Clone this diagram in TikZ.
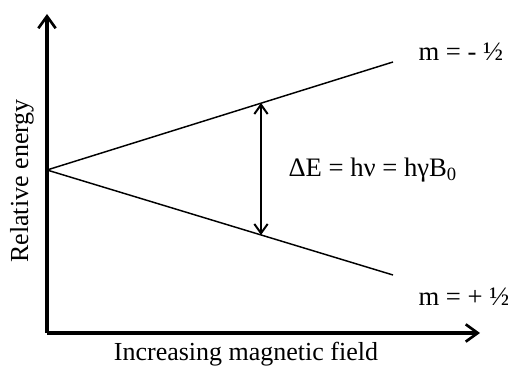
\documentclass[tikz,border=0pt]{standalone}
\usepackage{fontspec}
\setmainfont{Liberation Serif}
\usetikzlibrary{arrows.meta}

\tikzset{every picture/.style={line width=0.75pt}}
\tikzset{
  axis/.style={line width=2.4pt,-{Straight Barb[length=9pt,width=13pt,line width=2pt]}},
  level/.style={line width=1.1pt},
  gap/.style={line width=1.5pt,{Straight Barb[length=7pt,width=10pt]}-{Straight Barb[length=7pt,width=10pt]}},
  lbl/.style={inner sep=0.75pt,font=\fontsize{19.5}{23}\selectfont}
}

\begin{document}
\begin{tikzpicture}[x=0.75pt,y=0.75pt,yscale=-1,xscale=1]
\useasboundingbox (0,0) rectangle (508,367);

% Points
\coordinate (orig) at (47,333);
\coordinate (ytip) at (47,14);
\coordinate (xtip) at (480,333);
\coordinate (split) at (47,170);
\coordinate (upend) at (393,62);
\coordinate (loend) at (393,275);
\coordinate (uptop) at (261,103);
\coordinate (lobot) at (261,235);

% Axes
\draw [axis] (orig) -- (ytip) ;
\draw [axis] (orig) -- (xtip) ;

% Energy levels
\draw [level] (split) -- (upend) ;
\draw [level] (split) -- (loend) ;

% Energy gap
\draw [gap] (uptop) -- (lobot) ;

% Text Node
\node [lbl,anchor=west,font=\fontsize{20}{24}\selectfont] (mminus) at (417,52) {m = - ½};
% Text Node
\node [lbl,anchor=west,font=\fontsize{20}{24}\selectfont] (mplus) at (417,297) {m = + ½};
% Text Node
\node [lbl,anchor=west,font=\fontsize{20}{24}\selectfont] (deltae) at (287,170) {ΔE = hν = hγB\textsubscript{0}};
% Text Node
\node [lbl,rotate=90] (ylabel) at (22,181) {Relative energy};
% Text Node
\node [lbl] (xlabel) at (246,354) {Increasing magnetic field};

\end{tikzpicture}
\end{document}
